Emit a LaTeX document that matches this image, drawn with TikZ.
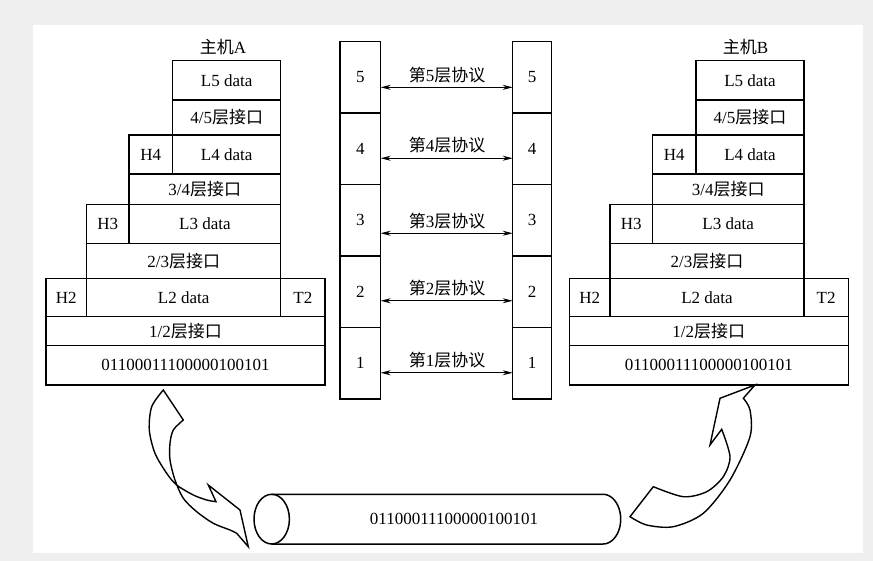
\documentclass[tikz,border=0pt]{standalone}
\usepackage{fontspec}
\setmainfont{Liberation Serif}
\newfontfamily\cjk{Noto Sans CJK SC}
\usetikzlibrary{arrows.meta}
\definecolor{pagegray}{HTML}{EFEFF0}
\newcommand\cellbox[6]{\node[cell, minimum width={(#4-#2)*1pt}, minimum height={(#5-#3)*1pt}] (#1) at ({(#2+#4)/2},{(#3+#5)/2}) {#6};}
\newcommand\hoststack[1]{%
\cellbox{#1l5}{172.7}{60.7}{280.7}{100}{L5 data}
\cellbox{#1i45}{172.7}{100}{280.7}{135}{4/5{\cjk 层接口}}
\cellbox{#1h4}{129}{135}{172.7}{174}{H4}
\cellbox{#1l4}{172.7}{135}{280.7}{174}{L4 data}
\cellbox{#1i34}{129}{174}{280.7}{204.3}{3/4{\cjk 层接口}}
\cellbox{#1h3}{86.7}{204.3}{129}{243.3}{H3}
\cellbox{#1l3}{129}{204.3}{280.7}{243.3}{L3 data}
\cellbox{#1i23}{86.7}{243.3}{280.7}{278.3}{2/3{\cjk 层接口}}
\cellbox{#1h2}{46}{278.3}{86.7}{316.7}{H2}
\cellbox{#1l2}{86.7}{278.3}{280.7}{316.7}{L2 data}
\cellbox{#1t2}{280.7}{278.3}{325}{316.7}{T2}
\cellbox{#1i12}{46}{316.7}{325}{345.7}{1/2{\cjk 层接口}}
\cellbox{#1bits}{46}{345.7}{325}{385}{01100011100000100101}
}
\begin{document}
\begin{tikzpicture}[x=1pt,y=-1pt,
  txt/.style={font=\fontsize{17}{17}\selectfont, inner sep=0pt},
  cell/.style={draw, line width=1.5pt, inner sep=0pt, outer sep=0pt, txt},
  proto/.style={{Stealth[length=10pt,width=5pt]}-{Stealth[length=10pt,width=5pt]}, line width=0.8pt},
  bigarrow/.style={line width=1.4pt, line join=miter}]
\useasboundingbox (0,0) rectangle (873,561);
\fill[pagegray] (0,0) rectangle (873,561);
\fill[white] (33,25) rectangle (863,553);

% host A
\hoststack{a}
\node[txt] (titleA) at (223,46.7) {{\cjk 主机}A};
% host B
\begin{scope}[xshift=523.3pt]
\hoststack{b}
\node[txt] (titleB) at (222.3,46.7) {{\cjk 主机}B};
\end{scope}

% layer columns
\cellbox{L5}{340}{41.7}{380.7}{113}{5}
\cellbox{L4}{340}{113}{380.7}{184.5}{4}
\cellbox{L3}{340}{184.5}{380.7}{256}{3}
\cellbox{L2}{340}{256}{380.7}{327.5}{2}
\cellbox{L1}{340}{327.5}{380.7}{399}{1}
\cellbox{R5}{512.7}{41.7}{551.7}{113}{5}
\cellbox{R4}{512.7}{113}{551.7}{184.5}{4}
\cellbox{R3}{512.7}{184.5}{551.7}{256}{3}
\cellbox{R2}{512.7}{256}{551.7}{327.5}{2}
\cellbox{R1}{512.7}{327.5}{551.7}{399}{1}

\draw[proto] ([yshift=-10pt]L5.east) -- ([yshift=-10pt]R5.west);
\draw[proto] ([yshift=-9.5pt]L4.east) -- ([yshift=-9.5pt]R4.west);
\draw[proto] ([yshift=-13pt]L3.east) -- ([yshift=-13pt]R3.west);
\draw[proto] ([yshift=-9pt]L2.east) -- ([yshift=-9pt]R2.west);
\draw[proto] ([yshift=-9.5pt]L1.east) -- ([yshift=-9.5pt]R1.west);
\node[txt] (p5) at (447,75) {{\cjk 第}5{\cjk 层协议}};
\node[txt] (p4) at (447,145) {{\cjk 第}4{\cjk 层协议}};
\node[txt] (p3) at (447,220.7) {{\cjk 第}3{\cjk 层协议}};
\node[txt] (p2) at (447,288) {{\cjk 第}2{\cjk 层协议}};
\node[txt] (p1) at (447,360) {{\cjk 第}1{\cjk 层协议}};

% cylinder
\draw[line width=1.5pt] (271.7,519.15) ellipse [x radius=17.7pt, y radius=24.85pt];
\draw[line width=1.5pt] (271.7,494.3) -- (603,494.3)
  -- plot[domain=-90:90, samples=40] ({603+17.7*cos(\x)},{519.15+24.85*sin(\x)})
  -- (271.7,544);
\node[txt] (cyltext) at (454,519) {01100011100000100101};

% left curved arrow
\draw[bigarrow] (163.3,390) -- (183.3,420)
  -- plot[smooth] coordinates {(183.3,420) (173.3,430) (170,443.3) (170,460) (175,480) (183.3,498.3) (196.7,511.7) (213.3,523.3) (230,530) (236.7,533.3)}
  -- (248.3,546.7) -- (240,510) -- (208.3,485) -- (216,501.7)
  -- plot[smooth] coordinates {(216,501.7) (206.7,500) (193.3,495) (176.7,485) (166.7,473.3) (155,453.3) (149.3,430) (151.7,406.7) (163.3,390)}
  -- cycle;

% right curved arrow
\draw[bigarrow] (755,385) -- (720,398.3) -- (710,445) -- (721.7,429.3)
  -- plot[smooth] coordinates {(721.7,429.3) (730,456.7) (723.3,476.7) (706.7,491.7) (683.3,496.7) (653.3,486.7)}
  -- (630,516.7)
  -- plot[smooth] coordinates {(630,516.7) (646.7,525) (673.3,526.7) (703.3,513.3) (730,480) (750,436.7) (750,410) (743.3,398.3)}
  -- cycle;
\end{tikzpicture}
\end{document}
